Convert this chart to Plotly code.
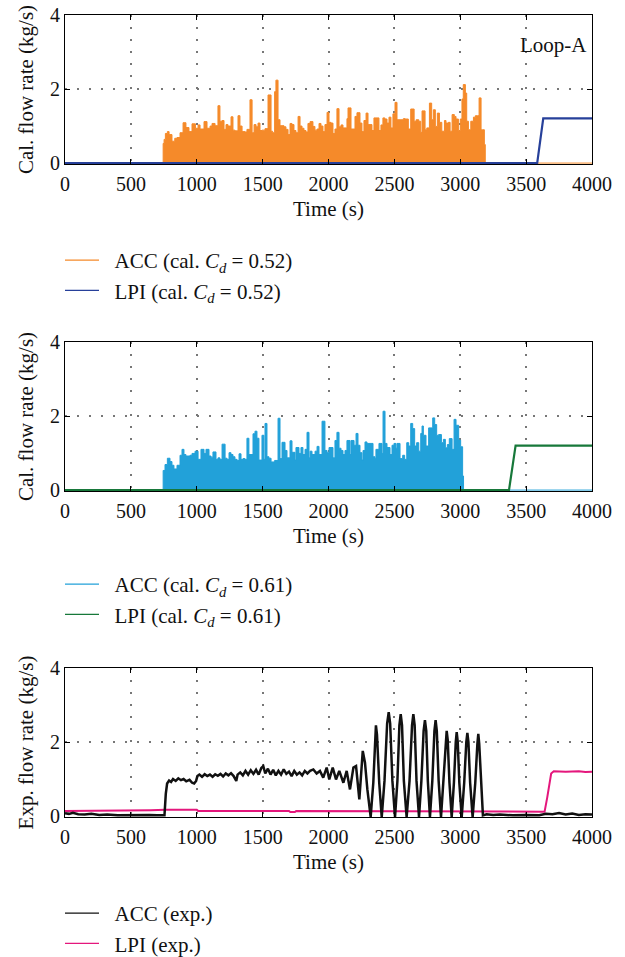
import plotly.graph_objects as go

W, H = 625, 957

# ---------------- data ----------------
# Loop-A, calculated ACC flow (Cd = 0.52): step envelope (block start time, peak value)
acc52_t = [0, 745, 752, 762, 777, 790, 812, 833, 850, 873, 896, 918, 941, 964, 990, 1010, 1025, 1055, 1078,
           1101, 1116, 1139, 1161, 1176, 1192, 1207, 1222, 1237, 1260, 1275, 1290, 1313, 1328, 1344, 1366,
           1381, 1404, 1420, 1435, 1450, 1465, 1480, 1495, 1518, 1541, 1564, 1576, 1591, 1601, 1617, 1632,
           1662, 1677, 1693, 1708, 1723, 1738, 1753, 1769, 1784, 1799, 1814, 1829, 1844, 1860, 1882, 1897,
           1913, 1928, 1943, 1958, 1973, 1989, 2004, 2019, 2034, 2049, 2064, 2080, 2095, 2110, 2140, 2148,
           2171, 2201, 2216, 2239, 2254, 2269, 2285, 2300, 2330, 2345, 2383, 2398, 2413, 2428, 2444, 2459,
           2474, 2489, 2505, 2520, 2543, 2568, 2581, 2606, 2624, 2650, 2665, 2685, 2700, 2710, 2733, 2746,
           2766, 2783, 2796, 2811, 2826, 2842, 2860, 2880, 2892, 2910, 2923, 2938, 2955, 2968, 2986, 3000,
           3013, 3023, 3039, 3049, 3062, 3080, 3100, 3115, 3130, 3143, 3158, 3168, 3183, 3190, 4000]
acc52_v = [0, 0.53, 0.64, 0.80, 0.85, 0.77, 0.59, 0.67, 0.69, 0.82, 1.09, 0.96, 0.85, 1.06, 0.94, 1.03, 0.92,
           1.12, 0.94, 1.00, 1.07, 1.01, 1.55, 1.13, 1.15, 0.91, 1.04, 1.00, 1.25, 0.89, 0.87, 1.28, 1.00,
           0.85, 0.84, 0.91, 1.71, 0.82, 1.04, 0.98, 1.08, 0.88, 0.89, 0.93, 1.84, 0.86, 0.82, 1.93, 2.24,
           1.17, 1.01, 0.98, 0.91, 0.77, 1.07, 1.04, 0.88, 0.82, 1.26, 1.00, 0.94, 0.88, 0.84, 1.07, 1.12,
           0.99, 0.89, 0.92, 1.07, 1.00, 0.85, 1.04, 1.37, 1.10, 1.08, 0.80, 0.92, 1.47, 0.98, 1.03, 0.95,
           1.20, 1.49, 0.92, 1.26, 1.36, 1.08, 0.85, 1.15, 1.35, 1.04, 0.88, 1.22, 0.88, 1.03, 1.22, 1.19,
           1.08, 1.24, 0.95, 1.33, 1.64, 1.17, 1.17, 1.20, 1.19, 0.92, 1.46, 1.13, 1.17, 1.13, 0.83, 1.41,
           0.90, 0.95, 1.62, 1.17, 1.44, 0.99, 1.35, 1.10, 0.86, 1.15, 1.08, 1.10, 0.86, 1.31, 1.26, 1.19,
           0.88, 1.19, 1.73, 2.12, 1.89, 1.13, 0.90, 1.13, 1.24, 1.28, 1.28, 1.76, 0.90, 0.90, 0.50, 0, 0]

lpi52_t = [0, 3584, 3630, 4000]
lpi52_v = [0, 0, 1.21, 1.21]

# calculated ACC flow (Cd = 0.61)
acc61_t = [0, 745, 759, 777, 797, 812, 827, 850, 873, 888, 903, 918, 949, 964, 987, 1010, 1032, 1055, 1070,
           1093, 1108, 1123, 1146, 1161, 1176, 1192, 1215, 1230, 1245, 1260, 1275, 1290, 1306, 1321, 1336,
           1351, 1366, 1381, 1396, 1412, 1427, 1442, 1457, 1472, 1495, 1510, 1518, 1533, 1548, 1564, 1591,
           1617, 1632, 1647, 1670, 1685, 1708, 1723, 1746, 1753, 1776, 1791, 1806, 1822, 1837, 1852, 1860,
           1875, 1898, 1913, 1928, 1951, 1973, 1989, 2004, 2034, 2049, 2064, 2080, 2095, 2110, 2125, 2140,
           2163, 2171, 2194, 2209, 2224, 2239, 2254, 2262, 2277, 2292, 2338, 2353, 2360, 2383, 2406, 2414,
           2429, 2444, 2467, 2482, 2497, 2512, 2520, 2543, 2563, 2578, 2594, 2609, 2624, 2639, 2654, 2669,
           2685, 2700, 2710, 2720, 2740, 2760, 2791, 2806, 2821, 2836, 2857, 2872, 2887, 2902, 2917, 2938,
           2953, 2968, 2988, 3003, 3018, 3025, 4000]
acc61_v = [0, 0.53, 0.69, 0.86, 0.77, 0.67, 0.57, 0.67, 0.94, 1.10, 0.96, 0.92, 0.94, 0.99, 1.05, 0.83, 1.10,
           0.99, 1.10, 0.92, 0.89, 1.03, 0.83, 0.87, 0.83, 1.24, 0.86, 0.83, 1.01, 0.96, 0.90, 0.83, 0.80,
           0.98, 0.83, 0.85, 0.83, 1.40, 0.96, 0.96, 1.52, 1.59, 1.40, 0.81, 1.48, 0.83, 1.80, 0.90, 0.86,
           0.76, 0.80, 1.94, 0.85, 1.29, 1.07, 0.87, 1.33, 1.02, 0.81, 1.15, 0.99, 1.15, 0.96, 1.10, 1.56,
           0.87, 1.05, 0.96, 1.05, 1.18, 0.96, 1.86, 1.07, 1.01, 1.15, 0.87, 1.34, 1.56, 1.13, 1.07, 0.96,
           1.07, 1.34, 0.96, 1.34, 1.21, 1.53, 1.21, 1.01, 0.81, 1.07, 1.30, 1.26, 0.90, 0.85, 1.10, 1.26,
           0.99, 2.13, 1.26, 1.15, 0.96, 1.21, 1.26, 1.13, 1.26, 0.85, 0.94, 0.83, 1.28, 1.19, 1.80, 1.66,
           1.19, 1.28, 1.05, 1.53, 1.73, 1.48, 1.19, 1.68, 1.95, 1.77, 1.48, 1.50, 1.28, 1.37, 1.14, 1.23,
           1.39, 1.10, 1.91, 1.75, 1.35, 1.17, 0.38, 0, 0]

lpi61_t = [0, 3370, 3420, 4000]
lpi61_v = [0, 0, 1.20, 1.20]

# experimental ACC flow
accexp_t = [0, 30, 60, 100, 150, 200, 260, 320, 400, 480, 560, 640, 700, 755, 765, 775, 790, 805, 820, 840,
            860, 880, 900, 920, 945, 965, 980, 995, 1005, 1020, 1040, 1060, 1080, 1100, 1120, 1140, 1160,
            1180, 1200, 1220, 1240, 1260, 1280, 1300, 1310, 1330, 1350, 1370, 1390, 1410, 1430, 1450, 1470,
            1490, 1505, 1520, 1540, 1560, 1580, 1600, 1620, 1640, 1660, 1680, 1700, 1720, 1740, 1760, 1780,
            1800, 1820, 1840, 1860, 1885, 1910, 1935, 1960, 1986, 2006, 2032, 2057, 2082, 2113, 2138, 2163,
            2189, 2209, 2234, 2260, 2277, 2295, 2320, 2340, 2352, 2360, 2368, 2385, 2404, 2425, 2445, 2457,
            2468, 2485, 2505, 2523, 2538, 2548, 2558, 2572, 2593, 2615, 2634, 2644, 2654, 2668, 2687, 2705,
            2722, 2732, 2742, 2754, 2770, 2788, 2804, 2813, 2822, 2836, 2854, 2872, 2889, 2897, 2905, 2918,
            2935, 2952, 2966, 2973, 2981, 2993, 3011, 3030, 3046, 3054, 3062, 3075, 3094, 3114, 3130, 3137,
            3144, 3157, 3172, 3200, 3250, 3300, 3400, 3500, 3600, 3650, 3700, 3750, 3800, 3850, 3900, 3950, 4000]
accexp_v = [0.08, 0.06, 0.09, 0.05, 0.04, 0.06, 0.03, 0.04, 0.02, 0.03, 0.02, 0.03, 0.02, 0.02, 0.60, 0.88,
            0.96, 0.92, 1.00, 0.95, 1.02, 0.97, 1.00, 0.94, 0.98, 0.90, 0.88, 0.95, 1.08, 1.12, 1.06, 1.13,
            1.08, 1.12, 1.06, 1.13, 1.09, 1.14, 1.07, 1.15, 1.10, 1.16, 1.08, 0.95, 1.12, 1.18, 1.10, 1.22,
            1.12, 1.24, 1.14, 1.25, 1.12, 1.30, 1.35, 1.15, 1.28, 1.12, 1.25, 1.10, 1.22, 1.12, 1.26, 1.14,
            1.20, 1.08, 1.22, 1.12, 1.18, 1.10, 1.22, 1.15, 1.22, 1.26, 1.15, 1.22, 1.04, 1.31, 0.99, 1.31,
            0.99, 1.22, 0.90, 1.22, 0.72, 1.31, 1.35, 0.45, 1.76, 1.44, 0.72, -0.02, 0.90, 2.20, 2.45, 2.20,
            0.90, -0.03, 0.95, 2.50, 2.81, 2.50, 0.95, -0.03, 0.95, 2.45, 2.75, 2.45, 0.95, -0.03, 0.95, 2.45,
            2.75, 2.45, 0.95, -0.03, 0.95, 2.30, 2.59, 2.30, 0.95, -0.03, 0.95, 2.30, 2.59, 2.30, 0.95, -0.03,
            0.90, 2.05, 2.30, 2.05, 0.90, -0.03, 0.90, 2.00, 2.27, 2.00, 0.90, -0.03, 0.90, 2.00, 2.25, 2.00,
            0.90, -0.03, 0.90, 1.95, 2.22, 1.95, 0.90, 0.02, 0.05, 0.03, 0.04, 0.02, 0.03, 0.02, 0.06, 0.05,
            0.08, 0.04, 0.07, 0.03, 0.05, 0.04]

# experimental LPI flow
lpiexp_t = [0, 600, 650, 760, 1000, 1010, 1700, 1710, 1745, 1755, 3200, 3230, 3640, 3660, 3690, 3710, 3800,
            3900, 3950, 4000]
lpiexp_v = [0.14, 0.14, 0.16, 0.17, 0.17, 0.14, 0.14, 0.11, 0.11, 0.14, 0.14, 0.12, 0.12, 0.50, 1.15, 1.21,
            1.20, 1.21, 1.19, 1.20]

x_ticks = [0, 500, 1000, 1500, 2000, 2500, 3000, 3500, 4000]
y_ticks = [0, 2, 4]

names = ["ACC (cal. <i>C<sub>d</sub></i> = 0.52)", "LPI (cal. <i>C<sub>d</sub></i> = 0.52)",
         "ACC (cal. <i>C<sub>d</sub></i> = 0.61)", "LPI (cal. <i>C<sub>d</sub></i> = 0.61)",
         "ACC (exp.)", "LPI (exp.)"]
y_titles = ["Cal. flow rate (kg/s)", "Cal. flow rate (kg/s)", "Exp. flow rate (kg/s)"]

# ---------------- style ----------------
ORANGE = "#F58A2A"
NAVY = "#27409A"
SKY = "#22A1D9"
GREEN = "#17783A"
BLACK = "#111111"
PINK = "#E4177C"
FONT = "Liberation Serif"

# plot boxes in pixels (top, bottom)
x_left, x_right = 65, 592
boxes = [(15, 164), (342, 491), (668, 817)]

fig = go.Figure()

def line_trace(x, y, color, width, idx, shape="linear", fill=None):
    sfx = "" if idx == 1 else str(idx)
    return go.Scatter(x=x, y=y, mode="lines", line=dict(color=color, width=width, shape=shape),
                      fill=fill, fillcolor=color if fill else None,
                      xaxis="x" + sfx, yaxis="y" + sfx, showlegend=False, hoverinfo="skip")

fig.add_trace(line_trace(acc52_t, acc52_v, ORANGE, 1, 1, shape="hv", fill="tozeroy"))
fig.add_trace(line_trace(lpi52_t, lpi52_v, NAVY, 2.2, 1))
fig.add_trace(line_trace(acc61_t, acc61_v, SKY, 1, 2, shape="hv", fill="tozeroy"))
fig.add_trace(line_trace(lpi61_t, lpi61_v, GREEN, 2.2, 2))
fig.add_trace(line_trace(lpiexp_t, lpiexp_v, PINK, 2, 3))
fig.add_trace(line_trace(accexp_t, accexp_v, BLACK, 2.5, 3))

# legend-only entries
leg_colors = [ORANGE, NAVY, SKY, GREEN, BLACK, PINK]
leg_ids = ["legend", "legend", "legend2", "legend2", "legend3", "legend3"]
for nm, c, lg in zip(names, leg_colors, leg_ids):
    fig.add_trace(go.Scatter(x=[None], y=[None], mode="lines", name="\u2002" + nm,
                             line=dict(color=c, width=1.3), legend=lg, showlegend=True))

layout = dict(width=W, height=H, margin=dict(l=0, r=0, t=0, b=0, autoexpand=False), paper_bgcolor="white",
              plot_bgcolor="white", font=dict(family=FONT, size=20, color="#111111"))

for i, (top, bot) in enumerate(boxes, start=1):
    sfx = "" if i == 1 else str(i)
    axcommon = dict(showline=True, linecolor="black", linewidth=1, mirror="ticks", ticks="inside",
                    ticklen=5, tickcolor="black", showgrid=True, gridcolor="#777777", gridwidth=1.5,
                    griddash="1.5px,10.5px", zeroline=False, automargin=False,
                    tickfont=dict(family=FONT, size=20))
    layout["xaxis" + sfx] = dict(axcommon, domain=[x_left / W, x_right / W], range=[0, 4000],
                                 tickvals=x_ticks, anchor="y" + sfx, ticklabelstandoff=2,
                                 title=dict(text="Time (s)", font=dict(family=FONT, size=21), standoff=7))
    layout["yaxis" + sfx] = dict(axcommon, domain=[1 - bot / H, 1 - top / H], range=[-0.025, 4],
                                 tickvals=y_ticks, anchor="x" + sfx,
                                 title=dict(text=y_titles[i - 1], font=dict(family=FONT, size=21), standoff=10))

legend_common = dict(bgcolor="rgba(0,0,0,0)", borderwidth=0, font=dict(family=FONT, size=21),
                     xanchor="left", yanchor="top", tracegroupgap=0, itemwidth=34)
layout["legend"] = dict(legend_common, x=60 / W, y=1 - 240 / H)
layout["legend2"] = dict(legend_common, x=60 / W, y=1 - 564 / H)
layout["legend3"] = dict(legend_common, x=60 / W, y=1 - 893 / H)

fig.update_layout(**layout)

fig.add_annotation(text="Loop-A", xref="paper", yref="paper", x=589 / W, y=1 - 45 / H,
                   xanchor="right", yanchor="middle", showarrow=False,
                   font=dict(family=FONT, size=21, color="#111111"))

fig.write_html("out.html", config={"displayModeBar": False},
               post_script="document.body.style.margin='0px';document.body.style.padding='0px';")
